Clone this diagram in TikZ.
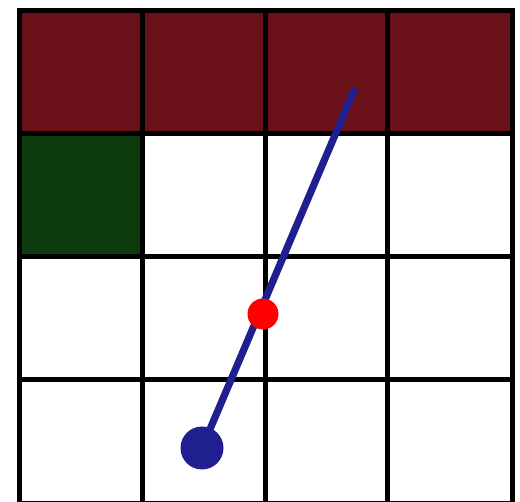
\documentclass[tikz,border=0pt]{standalone}
\definecolor{wallred}{HTML}{6A1018}
\definecolor{goalgreen}{HTML}{0E3B0E}
\definecolor{agentblue}{HTML}{1F1F8F}
\definecolor{hitred}{HTML}{FF0000}
\tikzset{
  gridline/.style={line width=5pt, black},
  ray/.style={line width=7.2pt, agentblue},
  agentdot/.style={circle, fill=agentblue, inner sep=0pt, minimum size=43pt},
  hitdot/.style={circle, fill=hitred, inner sep=0pt, minimum size=31pt}
}
\begin{document}
\begin{tikzpicture}[x=1pt,y=-1pt]
\useasboundingbox (0,0) rectangle (520,502);
\fill[wallred] (19.5,10.5) rectangle (512.5,134);
\fill[goalgreen] (19.5,134) rectangle (142,257);
\foreach \x in {19.5,142,265,387.5,512.5} \draw[gridline] (\x,8) -- (\x,506);
\foreach \y in {10.5,134,257,380,503.5} \draw[gridline] (17,\y) -- (515,\y);
\coordinate (tip) at (355,88);
\node[agentdot] (agent) at (202,448) {};
\draw[ray] (agent.center) -- (tip);
\node[hitdot] (hit) at (263,314) {};
\end{tikzpicture}
\end{document}
